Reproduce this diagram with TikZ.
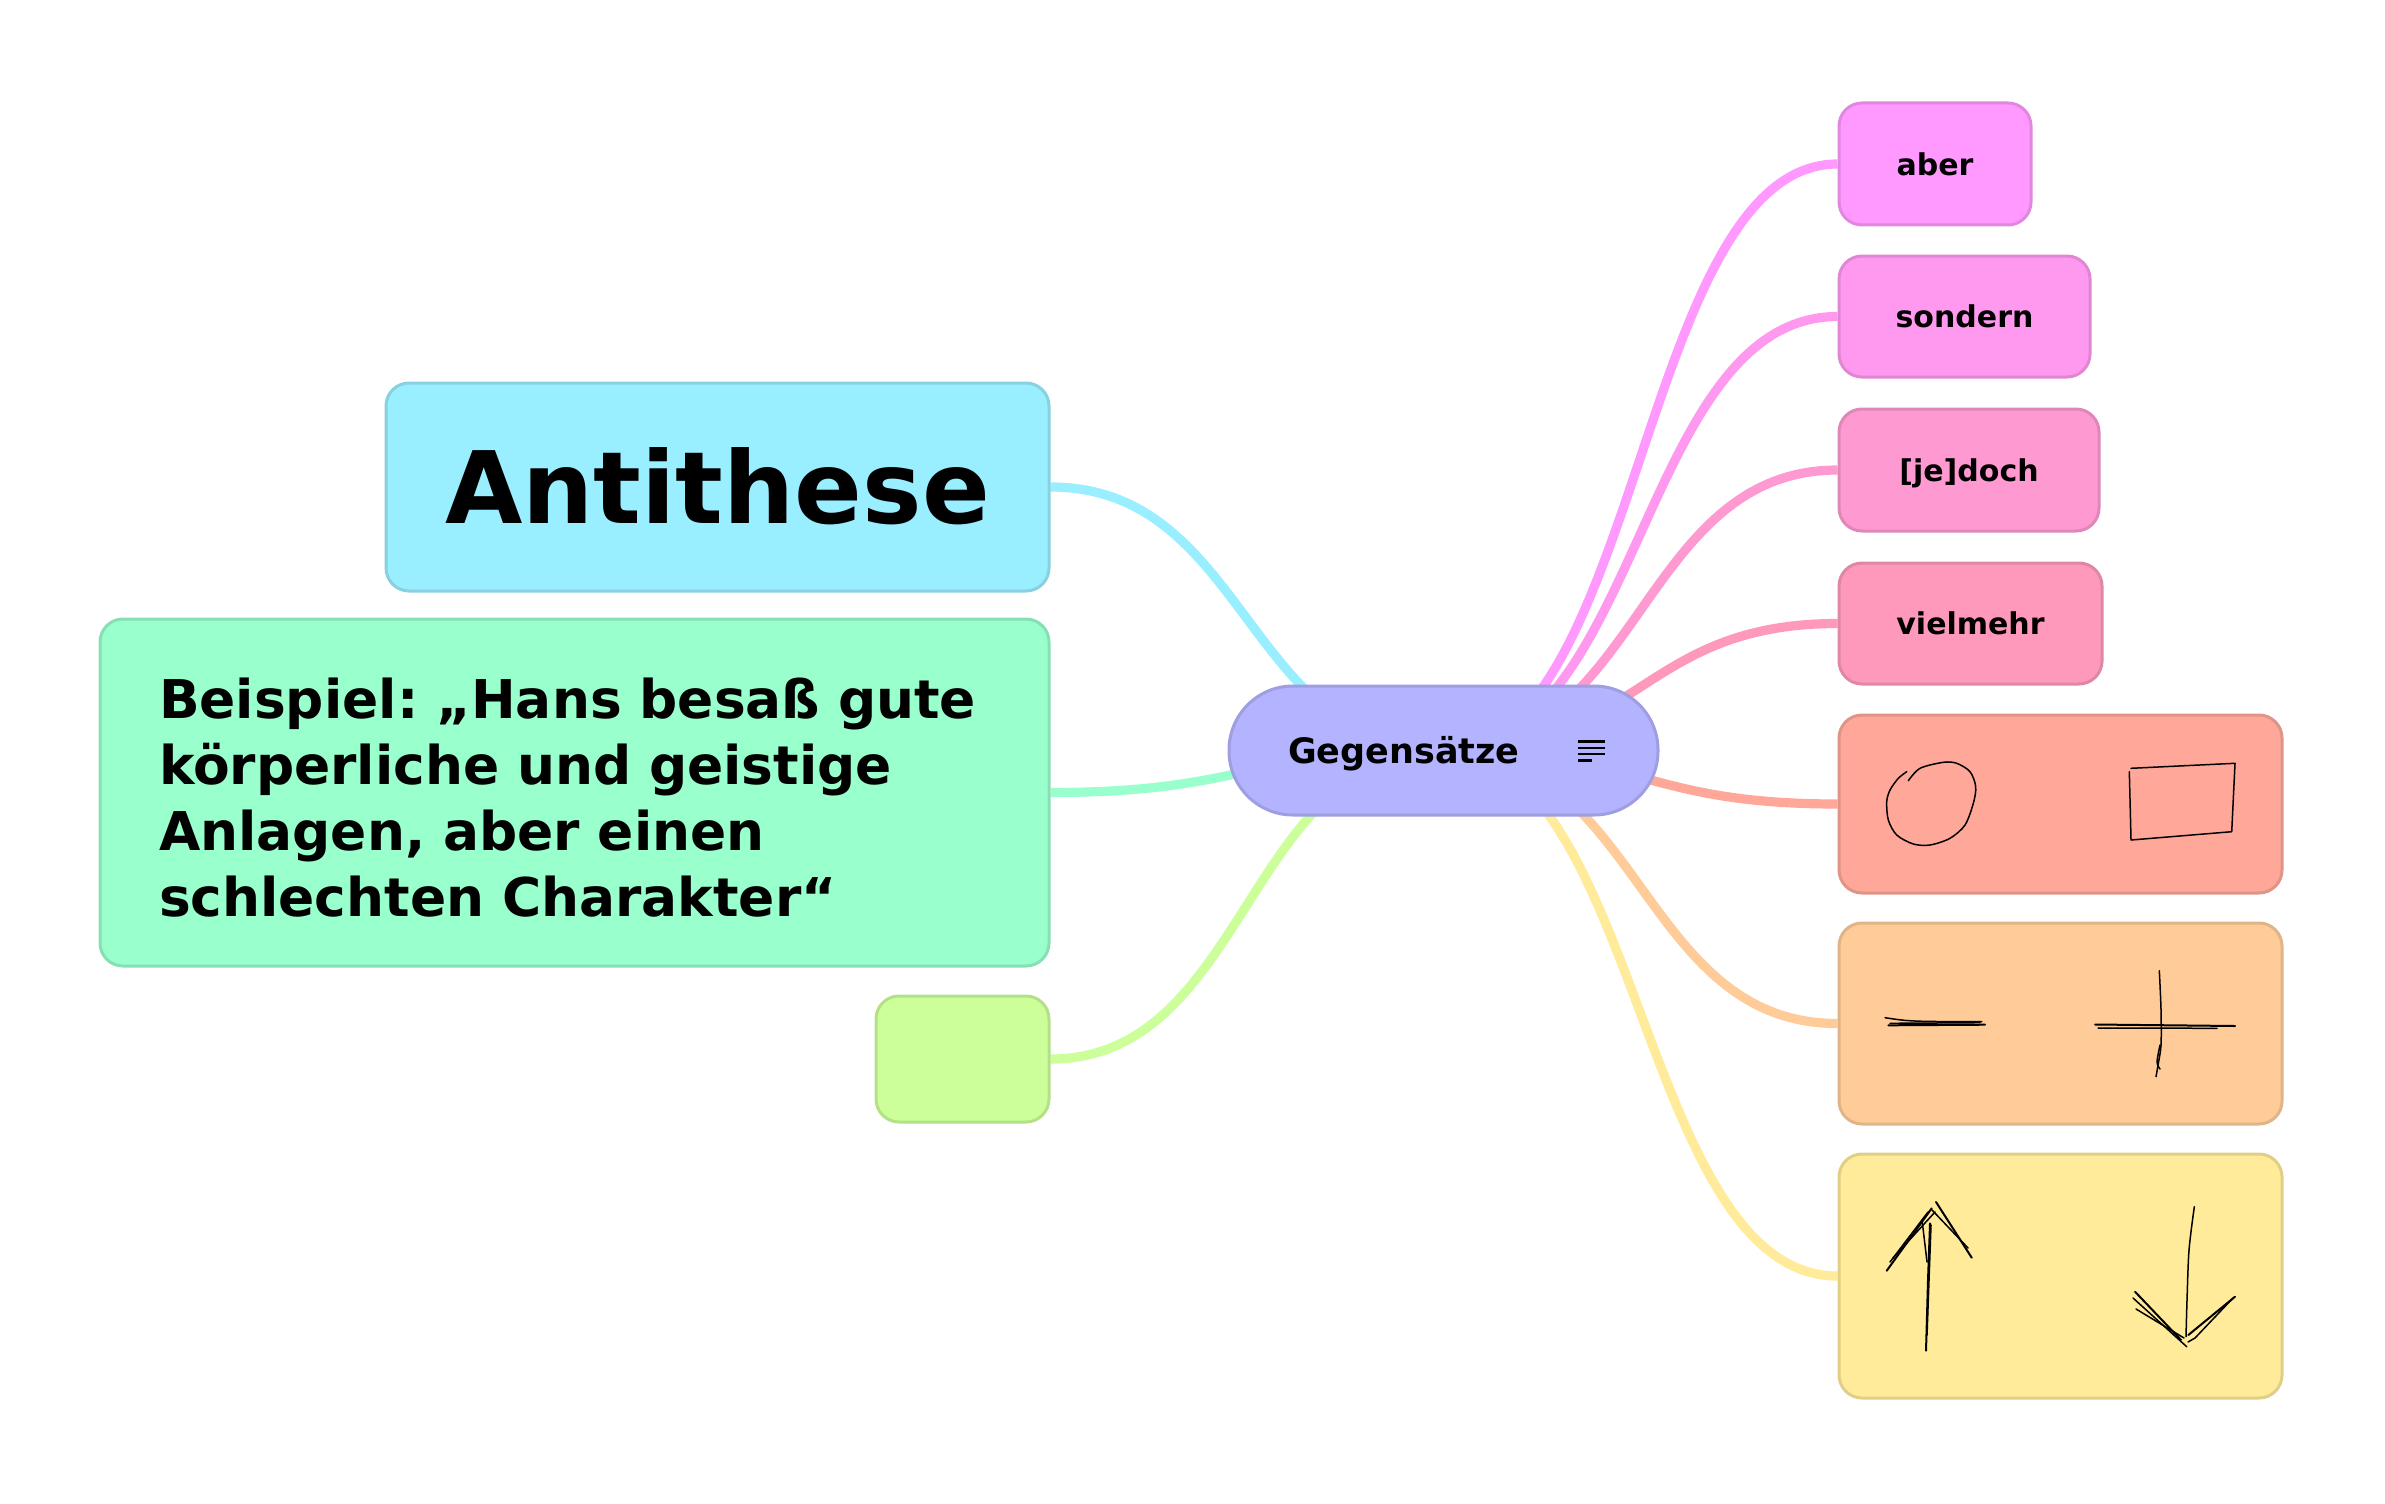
\documentclass[tikz,border=0pt]{standalone}
\usepackage{fontspec}
\setmainfont{DejaVu Sans}
\usetikzlibrary{backgrounds,calc}
\definecolor{cAber}{HTML}{FF99FF}
\definecolor{cSond}{HTML}{FF99F0}
\definecolor{cJe}{HTML}{FF99D2}
\definecolor{cViel}{HTML}{FF99BB}
\definecolor{cCirc}{HTML}{FFA899}
\definecolor{cPlus}{HTML}{FFCC99}
\definecolor{cArr}{HTML}{FFEB99}
\definecolor{cCent}{HTML}{B3B3FF}
\definecolor{cAnti}{HTML}{99EEFF}
\definecolor{cBsp}{HTML}{99FFCC}
\definecolor{cEmpty}{HTML}{CCFF99}
\tikzset{
  box/.style={draw=#1!88!black, fill=#1, line width=1.5pt, rounded corners=11.5pt,
    inner sep=0pt, font=\bfseries},
  sub/.style={box=#1, font=\fontsize{15}{18}\selectfont\bfseries,
    text height=11.2pt, text depth=0pt},
  conn/.style={line width=4.6pt, draw=#1},
  iconline/.style={line width=1.35pt, black},
  sketch/.style={line width=0.75pt, black, line cap=round, line join=round},
}
\newcommand\branch[2]{%
  \draw[conn=#1] let \p1=(cent.center), \p2=(#2) in
    (\p1) .. controls (\x1/2+\x2/2,\y1) and (\x1/2+\x2/2,\y2) .. (\p2);}
\frenchspacing
\begin{document}
\begin{tikzpicture}[x=0.5pt,y=-0.5pt]
\useasboundingbox (0,0) rectangle (2385,1503);
% central node
\node[box=cCent, rounded corners=32pt, minimum width=214.5pt, minimum height=64.5pt,
  text width=155.5pt, align=left, font=\fontsize{17.5}{21}\selectfont\bfseries,
  text height=13pt, text depth=0pt] (cent) at (1443.5,750.5) {Gegensätze};
% notes icon
\draw[iconline] (1578,741.7) -- (1605,741.7);
\draw[iconline] (1578,747.9) -- (1605,747.9);
\draw[iconline] (1578,754.1) -- (1605,754.1);
\draw[iconline] (1578,760.3) -- (1592,760.3);
% right children
\node[sub=cAber, minimum width=96pt, minimum height=61pt] (aber) at (1935,164) {aber};
\node[sub=cSond, minimum width=125.5pt, minimum height=60.5pt] (sond) at (1964.5,316.5) {sondern};
\node[sub=cJe, minimum width=130pt, minimum height=61pt] (jedoch) at (1969,470) {[je]doch};
\node[sub=cViel, minimum width=131.5pt, minimum height=60.5pt] (viel) at (1970.5,623.5) {vielmehr};
\node[box=cCirc, minimum width=221.5pt, minimum height=89pt] (circ) at (2060.5,804) {};
\node[box=cPlus, minimum width=221.5pt, minimum height=100.5pt] (plus) at (2060.5,1023.5) {};
\node[box=cArr, minimum width=221.5pt, minimum height=122pt] (arr) at (2060.5,1276) {};
% left children
\node[box=cAnti, minimum width=331.5pt, minimum height=104pt,
  font=\fontsize{50}{60}\selectfont\bfseries, text height=36.5pt, text depth=0pt,
  yshift=-2pt] (anti) at (717.5,483) {Antithese};
\node[box=cBsp, minimum width=474.5pt, minimum height=173.5pt, text width=415.5pt,
  align=left, font=\fontsize{26.7}{33}\selectfont\bfseries] (bsp) at (574.5,792.5)
  {\rule{0pt}{25pt}Beispiel: „Hans besaß gute\\körperliche und geistige\\Anlagen, aber einen\\schlechten Charakter“};
\node[box=cEmpty, minimum width=86.5pt, minimum height=63pt] (empty) at (962.5,1059) {};
% connectors
\begin{scope}[on background layer]
  \fill[white] (0,0) rectangle (2385,1503);
  \branch{cAber}{aber.west}
  \branch{cSond}{sond.west}
  \branch{cJe}{jedoch.west}
  \branch{cViel}{viel.west}
  \branch{cCirc}{circ.west}
  \branch{cPlus}{plus.west}
  \branch{cArr}{arr.west}
  \branch{cAnti}{anti.east}
  \branch{cBsp}{bsp.east}
  \branch{cEmpty}{empty.east}
\end{scope}
% sketches: circle and rectangle
\draw[sketch] plot[smooth] coordinates {(1908.3,780.7) (1920,768.3) (1943.3,762.3)
  (1956.7,763.3) (1970,771.7) (1975.7,786.7) (1973.3,803.3) (1965,825) (1950,838.3)
  (1930,845) (1913.3,844) (1896.7,835) (1888.3,820) (1886.7,801.7) (1890,790)
  (1898.3,778.3) (1906.7,771.7)};
\draw[sketch] (2131,768.3) -- (2235,763.3) -- (2231.7,831.7) -- (2131,840) -- (2129.3,771.7);
% minus and plus
\draw[sketch] (1885,1017.7) .. controls (1910,1021.5) .. (1981.7,1021.7);
\draw[sketch, line width=1pt] (1888.3,1025.3) -- (1985,1024.7);
\draw[sketch] (1890,1023.3) -- (1980,1022.7);
\draw[sketch, line width=1pt] (2095,1024.5) -- (2235,1026);
\draw[sketch] (2098,1028) -- (2217,1028.3);
\draw[sketch] plot[smooth] coordinates {(2159.3,970.7) (2161,1010) (2161,1045) (2158,1065) (2156,1076.7)};
\draw[sketch] plot[smooth] coordinates {(2160,1045) (2157,1062) (2160,1069)};
% up arrow
\draw[sketch, line width=1pt] (1926,1350.7) -- (1928,1280) -- (1930,1223.3);
\draw[sketch] (1927,1335) -- (1931,1225);
\draw[sketch] (1922,1220) -- (1927,1262);
\draw[sketch, line width=1pt] (1886.7,1270.7) -- (1931.7,1208.3);
\draw[sketch] (1890,1262) -- (1928,1212);
\draw[sketch] (1893,1258) -- (1935,1212);
\draw[sketch, line width=1pt] (1936,1202) -- (1971.7,1257.7);
\draw[sketch] (1932,1210) -- (1968,1248);
% down arrow
\draw[sketch] plot[smooth] coordinates {(2194.3,1206.7) (2189,1250) (2187,1300) (2186,1336.7)};
\draw[sketch, line width=1pt] (2135,1291.7) -- (2181,1340);
\draw[sketch] (2133,1298) -- (2186.7,1346.7);
\draw[sketch] (2136,1309) -- (2184,1338);
\draw[sketch, line width=1pt] (2235,1296.7) -- (2188.3,1335);
\draw[sketch] (2233,1298) -- (2195,1338) -- (2188,1342);
\end{tikzpicture}
\end{document}
